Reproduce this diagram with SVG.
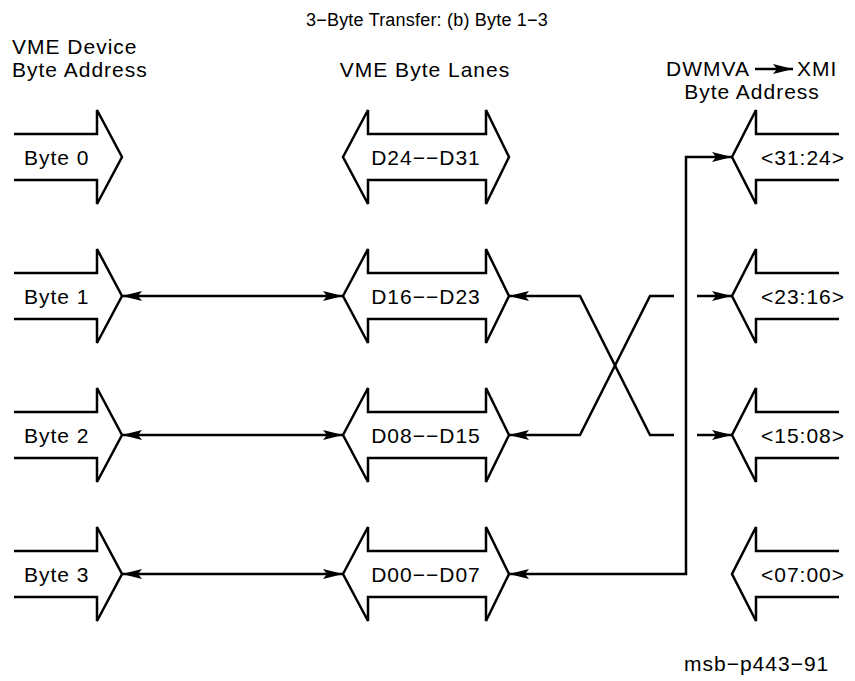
<svg xmlns="http://www.w3.org/2000/svg" width="855" height="681" viewBox="0 0 855 681">
<style>
text{font-family:"Liberation Sans",Arial,sans-serif;font-size:21px;fill:#000;letter-spacing:1px}
.t{font-size:18px;letter-spacing:0.2px}
.s{fill:none;stroke:#000;stroke-width:2.5;stroke-linejoin:miter}
.c{fill:none;stroke:#000;stroke-width:2.5}
</style>
<defs>
<marker id="ah" viewBox="0 0 20 10" refX="20" refY="5" markerWidth="20" markerHeight="10" markerUnits="userSpaceOnUse" orient="auto-start-reverse">
<path d="M0,0 L20,5 L0,10 L4,5 Z" fill="#000"/>
</marker>
<path id="la" d="M14,-23 H97 V-47 L122,0 L97,47 V23 H14"/>
<path id="ma" d="M343,0 L368,-47 V-23 H486 V-47 L509,0 L486,47 V23 H368 V47 Z"/>
<path id="ra" d="M839,-23 H756 V-47 L732,0 L756,47 V23 H839"/>
</defs>
<text class="t" x="427" y="26" text-anchor="middle">3−Byte Transfer: (b) Byte 1−3</text>
<text x="12" y="54">VME Device</text>
<text x="12" y="77">Byte Address</text>
<text x="425" y="77" text-anchor="middle">VME Byte Lanes</text>
<text x="666" y="76">DWMVA</text>
<line x1="755" y1="69" x2="793" y2="69" stroke="#000" stroke-width="2.5" marker-end="url(#ah)"/>
<text x="797" y="76">XMI</text>
<text x="752" y="99" text-anchor="middle">Byte Address</text>

<g id="byte0" transform="translate(0,157)"><use href="#la" class="s"/><text x="24" y="8">Byte 0</text></g>
<g id="byte1" transform="translate(0,296)"><use href="#la" class="s"/><text x="24" y="8">Byte 1</text></g>
<g id="byte2" transform="translate(0,435)"><use href="#la" class="s"/><text x="24" y="8">Byte 2</text></g>
<g id="byte3" transform="translate(0,574)"><use href="#la" class="s"/><text x="24" y="8">Byte 3</text></g>

<g id="d24" transform="translate(0,157)"><use href="#ma" class="s"/><text x="426" y="8" text-anchor="middle">D24−−D31</text></g>
<g id="d16" transform="translate(0,296)"><use href="#ma" class="s"/><text x="426" y="8" text-anchor="middle">D16−−D23</text></g>
<g id="d08" transform="translate(0,435)"><use href="#ma" class="s"/><text x="426" y="8" text-anchor="middle">D08−−D15</text></g>
<g id="d00" transform="translate(0,574)"><use href="#ma" class="s"/><text x="426" y="8" text-anchor="middle">D00−−D07</text></g>

<g id="x3124" transform="translate(0,157)"><use href="#ra" class="s"/><text x="803" y="8" text-anchor="middle">&lt;31:24&gt;</text></g>
<g id="x2316" transform="translate(0,296)"><use href="#ra" class="s"/><text x="803" y="8" text-anchor="middle">&lt;23:16&gt;</text></g>
<g id="x1508" transform="translate(0,435)"><use href="#ra" class="s"/><text x="803" y="8" text-anchor="middle">&lt;15:08&gt;</text></g>
<g id="x0700" transform="translate(0,574)"><use href="#ra" class="s"/><text x="803" y="8" text-anchor="middle">&lt;07:00&gt;</text></g>

<g id="connectors" class="c">
<line x1="122" y1="296" x2="343" y2="296" marker-start="url(#ah)" marker-end="url(#ah)"/>
<line x1="122" y1="435" x2="343" y2="435" marker-start="url(#ah)" marker-end="url(#ah)"/>
<line x1="122" y1="574" x2="343" y2="574" marker-start="url(#ah)" marker-end="url(#ah)"/>
<polyline points="674,435 650,435 580,296 509,296" marker-end="url(#ah)"/>
<polyline points="674,296 650,296 580,435 509,435" marker-end="url(#ah)"/>
<line x1="697" y1="296" x2="732" y2="296" marker-end="url(#ah)"/>
<line x1="697" y1="435" x2="732" y2="435" marker-end="url(#ah)"/>
<polyline points="732,157 686,157 686,574 509,574" marker-start="url(#ah)" marker-end="url(#ah)"/>
</g>
<text x="684" y="671">msb−p443−91</text>
</svg>
